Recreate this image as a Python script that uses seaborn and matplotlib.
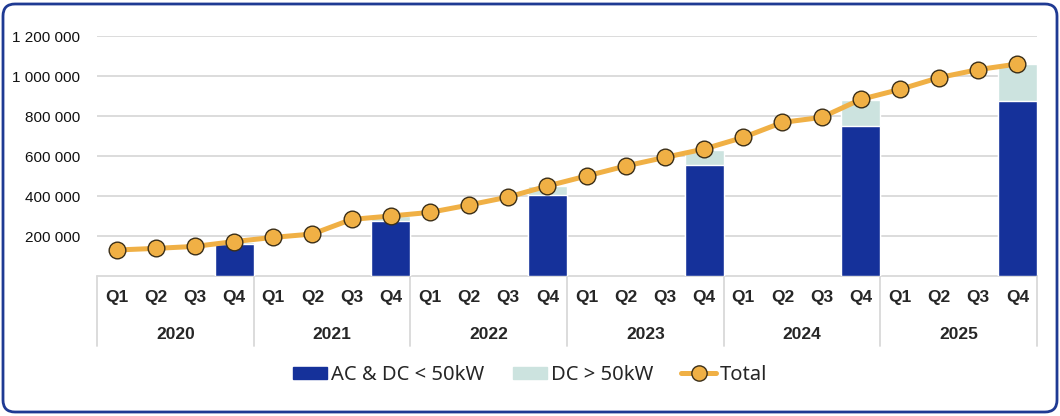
import matplotlib
matplotlib.use("Agg")
import matplotlib.pyplot as plt
from matplotlib.patches import Patch, FancyBboxPatch
from matplotlib.lines import Line2D
from matplotlib.ticker import FuncFormatter
import seaborn as sns
import pandas as pd

# dados
years = ["2020", "2021", "2022", "2023", "2024", "2025"]
quarters = ["Q1", "Q2", "Q3", "Q4"]
total = [130000, 138000, 148000, 172000,
         193000, 210000, 283000, 300000,
         318000, 355000, 395000, 450000,
         500000, 550000, 593000, 635000,
         693000, 768000, 793000, 883000,
         933000, 992000, 1032000, 1060000]
# barras apenas no Q4 de cada ano
ac_dc_lt50 = [158000, 277000, 405000, 555000, 750000, 873000]
dc_gt50 = [14000, 23000, 45000, 75000, 130000, 187000]

dark_blue = "#15319A"
light_green = "#CCE3DF"
orange = "#F0B045"
grid_col = "#D9D9D9"

periods = [f"{y} {q}" for y in years for q in quarters]
bars = pd.DataFrame({"period": [f"{y} Q4" for y in years],
                     "ac": ac_dc_lt50, "dc": dc_gt50})
bars["stack"] = bars["ac"] + bars["dc"]
line = pd.DataFrame({"period": periods, "total": total})

sns.set_theme(style="white")
plt.rcParams["font.family"] = ["Liberation Sans", "DejaVu Sans"]

fig = plt.figure(figsize=(10.6, 4.16), dpi=100)
ax = fig.add_axes([97 / 1060, 1 - 276 / 416, 940 / 1060, 240 / 416])

for y in range(200000, 1200001, 200000):
    ax.axhline(y, color=grid_col, lw=1.3, zorder=0)
ax.axhline(0, color=grid_col, lw=1.3, zorder=0, clip_on=False)

sns.barplot(data=bars, x="period", y="stack", order=periods, color=light_green,
            saturation=1, width=1.0, ax=ax, zorder=2)
sns.barplot(data=bars, x="period", y="ac", order=periods, color=dark_blue,
            saturation=1, width=1.0, ax=ax, zorder=3)
sns.pointplot(data=line, x="period", y="total", order=periods, color=orange,
              errorbar=None, markers="o", markersize=12, linewidth=3.6,
              markeredgecolor="#3A2E18", markeredgewidth=1.0, ax=ax, zorder=4)

ax.set_ylim(0, 1200000)
ax.set_xlim(-0.5, 23.5)
ax.set_xticks(range(24), quarters * len(years))
ax.tick_params(axis="x", length=0, pad=10, labelsize=12.5)
for t in ax.get_xticklabels():
    t.set_fontweight("bold")
ax.set_yticks(range(200000, 1200001, 200000))
ax.yaxis.set_major_formatter(FuncFormatter(lambda v, p: f"{int(v):,}".replace(",", " ")))
ax.tick_params(axis="y", length=0, pad=12, labelsize=11, labelcolor="#111111")
ax.set_xlabel("")
ax.set_ylabel("")
for s in ax.spines.values():
    s.set_visible(False)

# separadores dos anos e rótulos
xt = ax.get_xaxis_transform()
for i in range(len(years) + 1):
    ax.plot([i * 4 - 0.5, i * 4 - 0.5], [0, -0.29], color=grid_col, lw=1.3,
            transform=xt, clip_on=False)
for i, y in enumerate(years):
    ax.text(i * 4 + 1.5, -0.242, y, transform=xt, ha="center", va="center",
            fontsize=12.5, fontweight="bold")

handles = [Patch(color=dark_blue, label="AC & DC < 50kW"),
           Patch(color=light_green, label="DC > 50kW"),
           Line2D([0], [0], color=orange, lw=3.6, marker="o", markersize=11,
                  markeredgecolor="#3A2E18", markeredgewidth=1.0, label="Total")]
fig.legend(handles=handles, loc="center", bbox_to_anchor=(0.5, 1 - 375 / 416),
           ncol=3, frameon=False, handlelength=1.7,
           handleheight=0.6, handletextpad=0.2, columnspacing=1.4,
           prop={"family": ["Noto Sans", "DejaVu Sans"], "size": 14.5})

frame = FancyBboxPatch((0.03, 0.04), 10.54, 4.08, boxstyle="round,pad=0,rounding_size=0.12",
                       transform=fig.dpi_scale_trans, fill=False, edgecolor="#1F3A93",
                       linewidth=2.0)
fig.patches.append(frame)

fig.savefig("out.png", dpi=100)
